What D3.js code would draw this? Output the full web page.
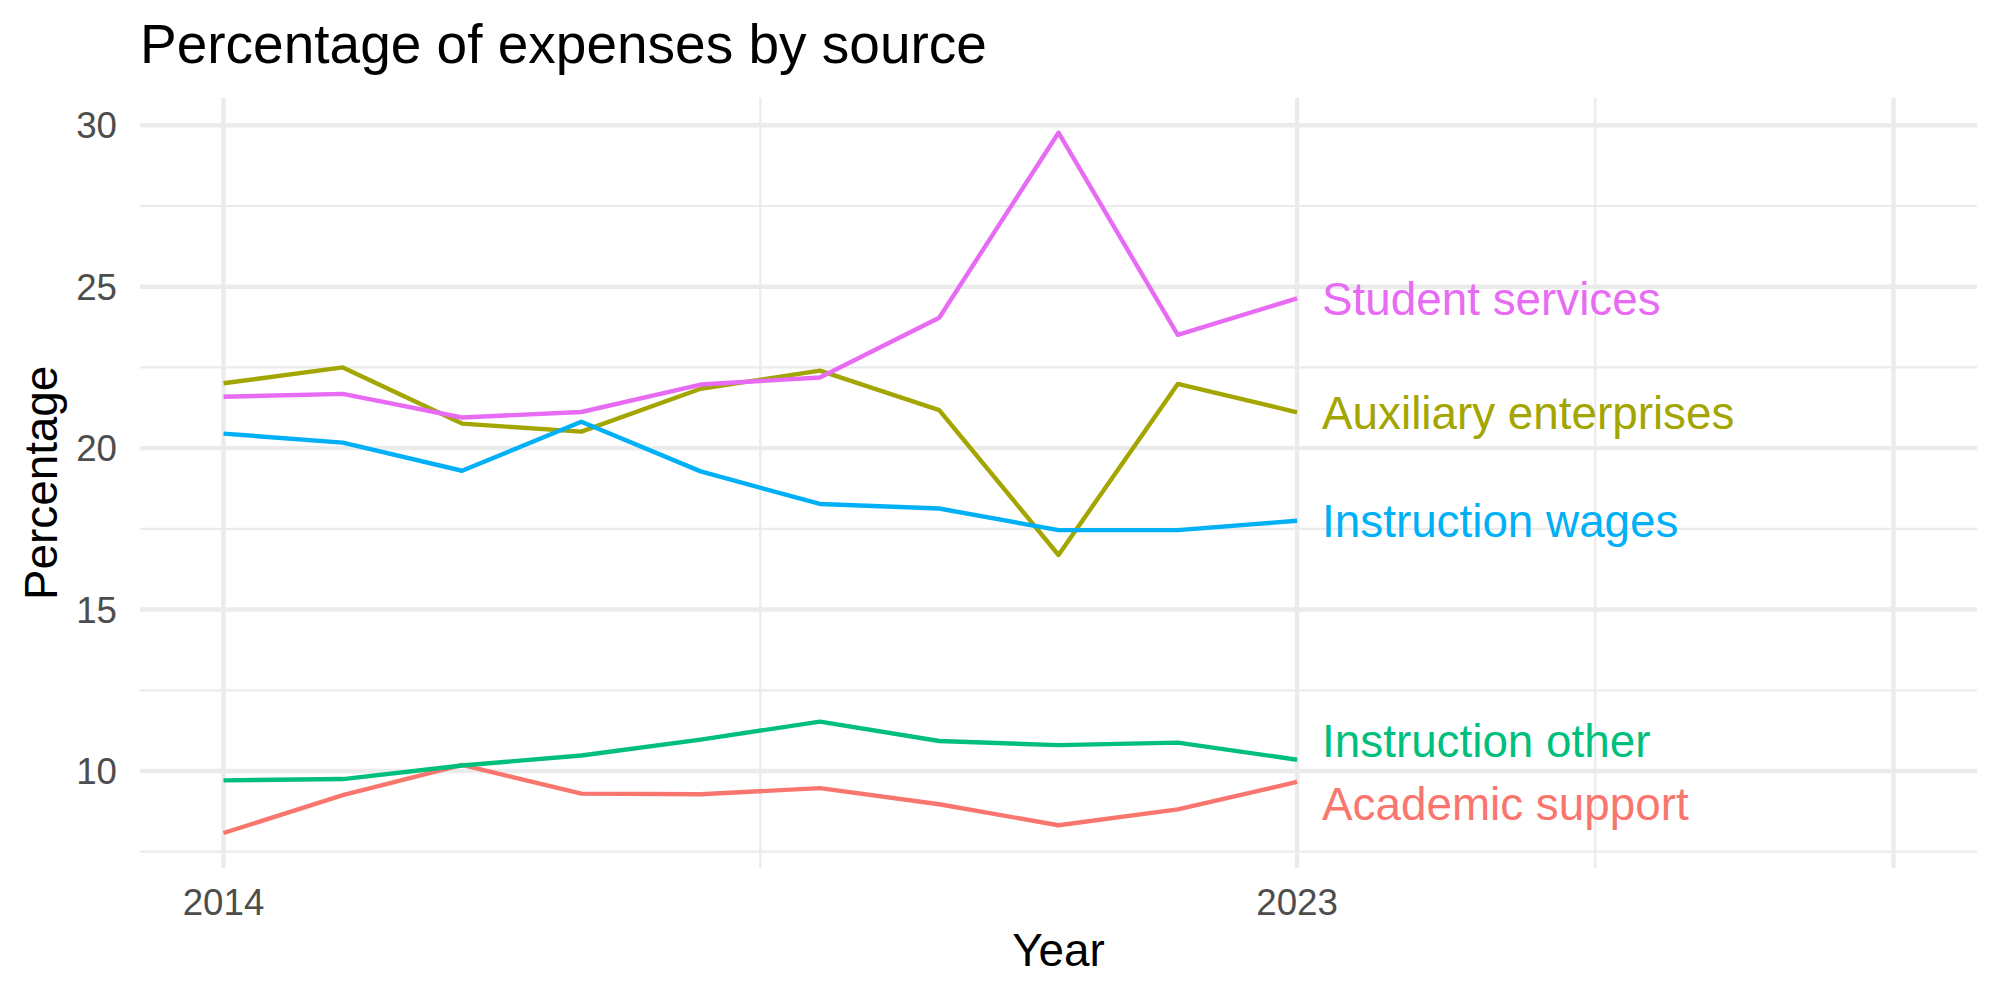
<!DOCTYPE html>
<html>
<head>
<meta charset="utf-8">
<script src="https://cdn.jsdelivr.net/npm/d3@7"></script>
<style>
  body { margin: 0; background: #fff; }
  text { font-family: "Liberation Sans", Arial, Helvetica, sans-serif; }
</style>
</head>
<body>
<div id="svg-area"></div>
<script>
var svgWidth = 2000;
var svgHeight = 1000;

// data
var years = [2014, 2015, 2016, 2017, 2018, 2019, 2020, 2021, 2022, 2023];
var seriesNames = ["Academic support", "Auxiliary enterprises", "Instruction other", "Instruction wages", "Student services"];
var academicSupport = [8.08, 9.25, 10.19, 9.30, 9.28, 9.47, 8.97, 8.32, 8.81, 9.66];
var auxiliaryEnterprises = [22.01, 22.50, 20.76, 20.51, 21.84, 22.40, 21.18, 16.69, 21.99, 21.11];
var instructionOther = [9.71, 9.75, 10.17, 10.48, 10.97, 11.53, 10.93, 10.80, 10.88, 10.35];
var instructionWages = [20.45, 20.17, 19.30, 20.82, 19.28, 18.27, 18.13, 17.46, 17.46, 17.75];
var studentServices = [21.59, 21.68, 20.95, 21.12, 21.97, 22.19, 24.04, 29.77, 23.51, 24.64];
// label heights after repelling (data units)
var labelValues = [8.99, 21.11, 10.95, 17.75, 24.64];
var colors = ["#F8766D", "#A3A500", "#00BF7D", "#00B0F6", "#E76BF3"];

var xLimits = [2014, 2028];
var xBreaks = [2014, 2023, 2028];
var xLabels = ["2014", "2023", ""];
var xMinor = [2018.5, 2025.5];
var yBreaks = [10, 15, 20, 25, 30];
var yMinor = [7.5, 12.5, 17.5, 22.5, 27.5];

var allSeries = [academicSupport, auxiliaryEnterprises, instructionOther, instructionWages, studentServices];

var panel = { left: 140, right: 1977, top: 97.7, bottom: 868 };

function expand(ext) {
  var r = ext[1] - ext[0];
  return [ext[0] - 0.05 * r, ext[1] + 0.05 * r];
}

var yExt = d3.extent(d3.merge(allSeries));

var xScale = d3.scaleLinear()
  .domain(expand(xLimits))
  .range([panel.left, panel.right]);

var yScale = d3.scaleLinear()
  .domain(expand(yExt))
  .range([panel.bottom, panel.top]);

var svg = d3.select("#svg-area")
  .append("svg")
  .attr("width", svgWidth)
  .attr("height", svgHeight);

var grid = svg.append("g").attr("stroke", "#EBEBEB");

// minor grid
grid.selectAll(".ymin").data(yMinor).enter().append("line")
  .attr("x1", panel.left).attr("x2", panel.right)
  .attr("y1", d => yScale(d)).attr("y2", d => yScale(d))
  .attr("stroke-width", 2.2);
grid.selectAll(".xmin").data(xMinor).enter().append("line")
  .attr("y1", panel.top).attr("y2", panel.bottom)
  .attr("x1", d => xScale(d)).attr("x2", d => xScale(d))
  .attr("stroke-width", 2.2);

// major grid
grid.selectAll(".ymaj").data(yBreaks).enter().append("line")
  .attr("x1", panel.left).attr("x2", panel.right)
  .attr("y1", d => yScale(d)).attr("y2", d => yScale(d))
  .attr("stroke-width", 4.4);
grid.selectAll(".xmaj").data(xBreaks).enter().append("line")
  .attr("y1", panel.top).attr("y2", panel.bottom)
  .attr("x1", d => xScale(d)).attr("x2", d => xScale(d))
  .attr("stroke-width", 4.4);

// lines
var lineGenerator = d3.line()
  .x((d, i) => xScale(years[i]))
  .y(d => yScale(d));

allSeries.forEach(function(values, k) {
  svg.append("path")
    .attr("fill", "none")
    .attr("stroke", colors[k])
    .attr("stroke-width", 4.4)
    .attr("stroke-linejoin", "round")
    .attr("d", lineGenerator(values));
});

// end labels
var lastYear = years[years.length - 1];
seriesNames.forEach(function(name, k) {
  svg.append("text")
    .attr("x", xScale(lastYear) + 25)
    .attr("y", yScale(labelValues[k]))
    .attr("dy", "0.36em")
    .attr("fill", colors[k])
    .style("font-size", "45.8px")
    .text(name);
});

// tick labels
svg.selectAll(".ylab").data(yBreaks).enter().append("text")
  .attr("x", 117)
  .attr("y", d => yScale(d))
  .attr("dy", "0.36em")
  .attr("text-anchor", "end")
  .attr("fill", "#4D4D4D")
  .style("font-size", "36.7px")
  .text(d => d);

svg.selectAll(".xlab").data(xBreaks).enter().append("text")
  .attr("x", d => xScale(d))
  .attr("y", 915)
  .attr("text-anchor", "middle")
  .attr("fill", "#4D4D4D")
  .style("font-size", "36.7px")
  .text((d, i) => xLabels[i]);

// titles
svg.append("text")
  .attr("x", panel.left)
  .attr("y", 63)
  .style("font-size", "55px")
  .text("Percentage of expenses by source");

svg.append("text")
  .attr("x", (panel.left + panel.right) / 2)
  .attr("y", 966)
  .attr("text-anchor", "middle")
  .style("font-size", "45.8px")
  .text("Year");

svg.append("text")
  .attr("transform", "translate(57," + ((panel.top + panel.bottom) / 2) + ") rotate(-90)")
  .attr("text-anchor", "middle")
  .style("font-size", "45.8px")
  .text("Percentage");
</script>
</body>
</html>
